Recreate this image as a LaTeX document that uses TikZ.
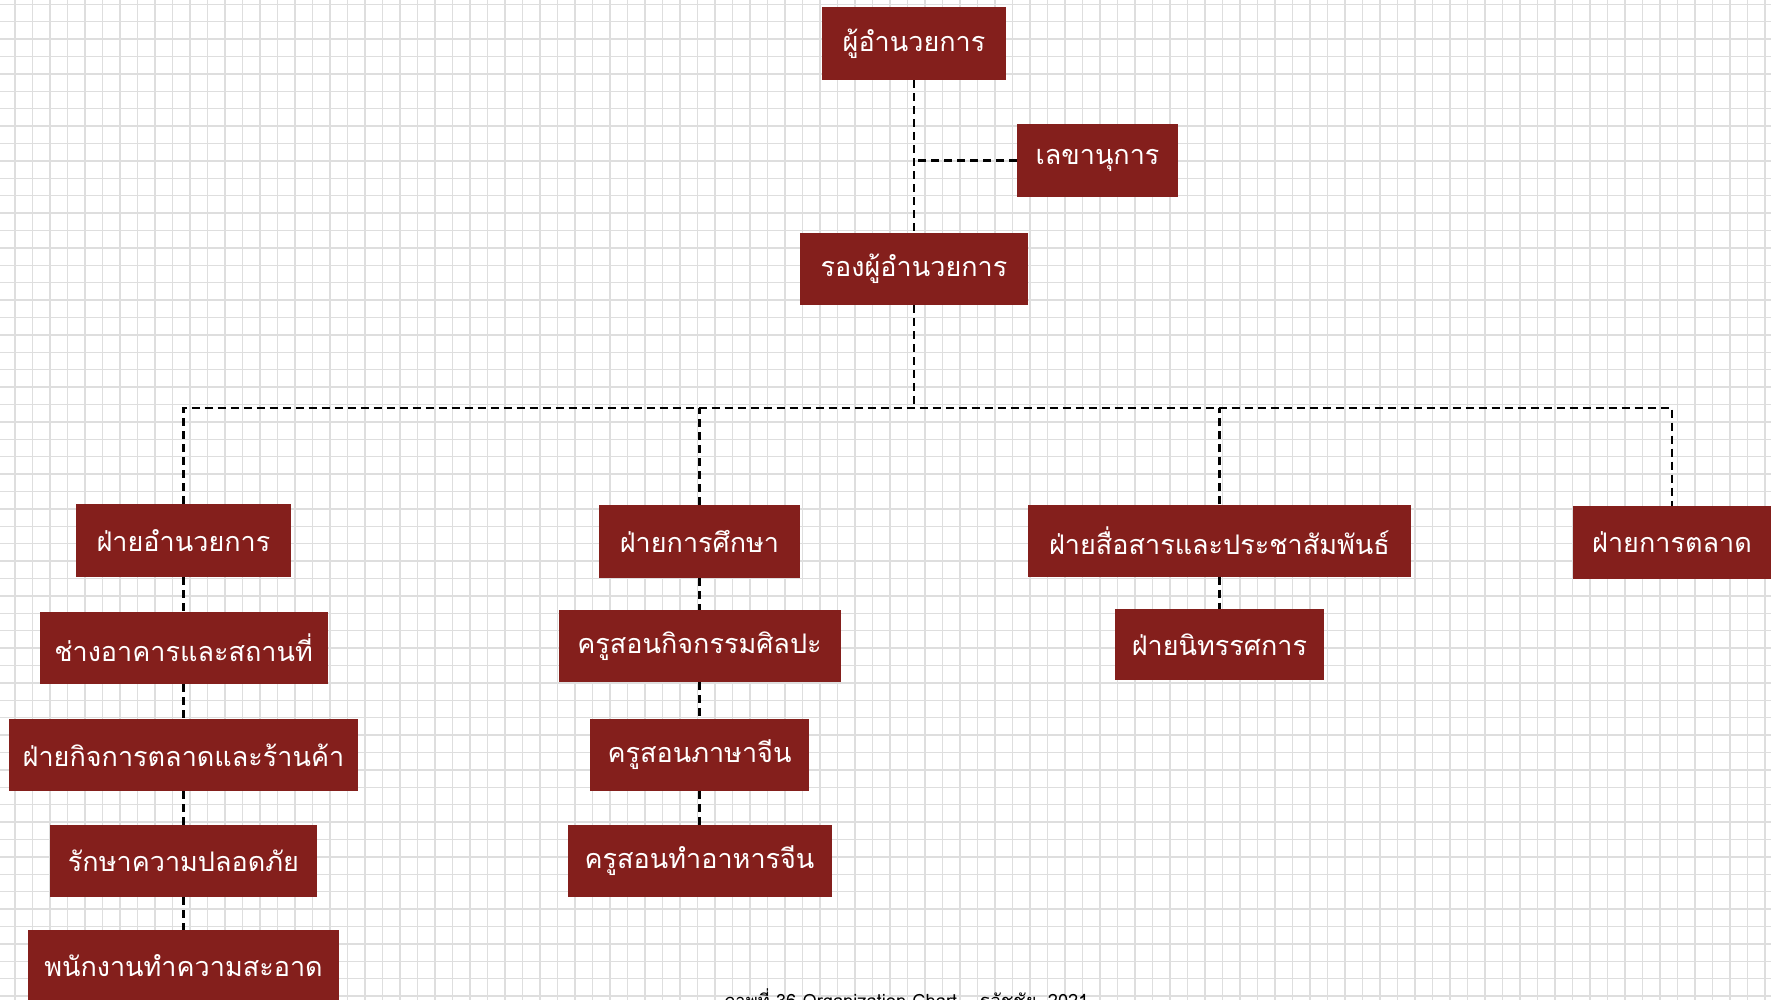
\documentclass[tikz,border=0pt]{standalone}
\usepackage{fontspec}
\usepackage{tikz}
\usepackage{xcolor}
\newfontfamily\thaifont[Script=Thai]{Loma}
\definecolor{boxred}{RGB}{132,31,28}
\definecolor{gridgray}{RGB}{222,222,222}
\tikzset{
  orgbox/.style={fill=boxred,text=white,minimum height=72pt,inner sep=0pt,
    font=\thaifont\fontsize{27}{30}\selectfont},
  link/.style={line width=2.2pt,dash pattern=on 8pt off 5pt},
  gridline/.style={gridgray,line width=1.3pt}
}

\begin{document}
\begin{tikzpicture}[x=1pt,y=-1pt]
            \useasboundingbox (0,0) rectangle (1771,1000);
            \clip (0,0) rectangle (1771,1000);
            \fill[white] (0,0) rectangle (1771,1000);
            \foreach \i in {0,...,102} \draw[gridline] ({-2.5+17.5*\i},0) -- ++(0,1000);
            \foreach \j in {0,...,57} \draw[gridline] (0,{4.3+17.4*\j}) -- ++(1771,0);
            \node[orgbox,minimum width=184pt,minimum height=73pt] (dir) at (914,43.5) {ผู้อำนวยการ};
            \node[orgbox,minimum width=161pt,minimum height=73pt] (sec) at (1097.5,160.5) {เลขานุการ};
            \node[orgbox,minimum width=228pt] (depdir) at (914,269) {รองผู้อำนวยการ};
            \coordinate (bus) at (914,408);
            \node[orgbox,minimum width=215pt,minimum height=73pt] (admin) at (183.5,540.5) {ฝ่ายอำนวยการ};
            \node[orgbox,minimum width=288pt] (build) at (183.5,648) {ช่างอาคารและสถานที่};
            \node[orgbox,minimum width=349pt] (shop) at (183.5,755) {ฝ่ายกิจการตลาดและร้านค้า};
            \node[orgbox,minimum width=267pt] (guard) at (183.5,861) {รักษาความปลอดภัย};
            \node[orgbox,minimum width=311pt] (clean) at (183.5,966) {พนักงานทำความสะอาด};
            \node[orgbox,minimum width=201pt,minimum height=73pt] (edu) at (699.5,541.5) {ฝ่ายการศึกษา};
            \node[orgbox,minimum width=282pt] (art) at (699.5,646) {ครูสอนกิจกรรมศิลปะ};
            \node[orgbox,minimum width=219pt] (chn) at (699.5,755) {ครูสอนภาษาจีน};
            \node[orgbox,minimum width=264pt] (cook) at (699.5,861) {ครูสอนทำอาหารจีน};
            \node[orgbox,minimum width=383pt] (pr) at (1219.5,540.5) {ฝ่ายสื่อสารและประชาสัมพันธ์};
            \node[orgbox,minimum width=209pt,minimum height=71pt] (expo) at (1219.5,644.5) {ฝ่ายนิทรรศการ};
            \node[orgbox,minimum width=198pt,minimum height=73pt] (mkt) at (1672,542.5) {ฝ่ายการตลาด};
            \node[anchor=base,font=\thaifont\fontsize{18.3}{22}\selectfont] (cap) at (906,1007) {ภาพที่ 36 Organization Chart – ธวัชชัย, 2021};
            \draw[link] (dir.south) -- (depdir.north);
            \draw[link] (sec.west) -- (sec.west -| dir.south);
            \draw[link] (depdir.south) -- (bus);
            \draw[link] (admin.north) |- (bus -| mkt.north) -- (mkt.north);
            \draw[link] (edu.north) -- (edu.north |- bus);
            \draw[link] (pr.north) -- (pr.north |- bus);
            \draw[link] (admin) -- (build);
            \draw[link] (build) -- (shop);
            \draw[link] (shop) -- (guard);
            \draw[link] (guard) -- (clean);
            \draw[link] (edu) -- (art);
            \draw[link] (art) -- (chn);
            \draw[link] (chn) -- (cook);
            \draw[link] (pr) -- (expo);
        \end{tikzpicture}
\end{document}
